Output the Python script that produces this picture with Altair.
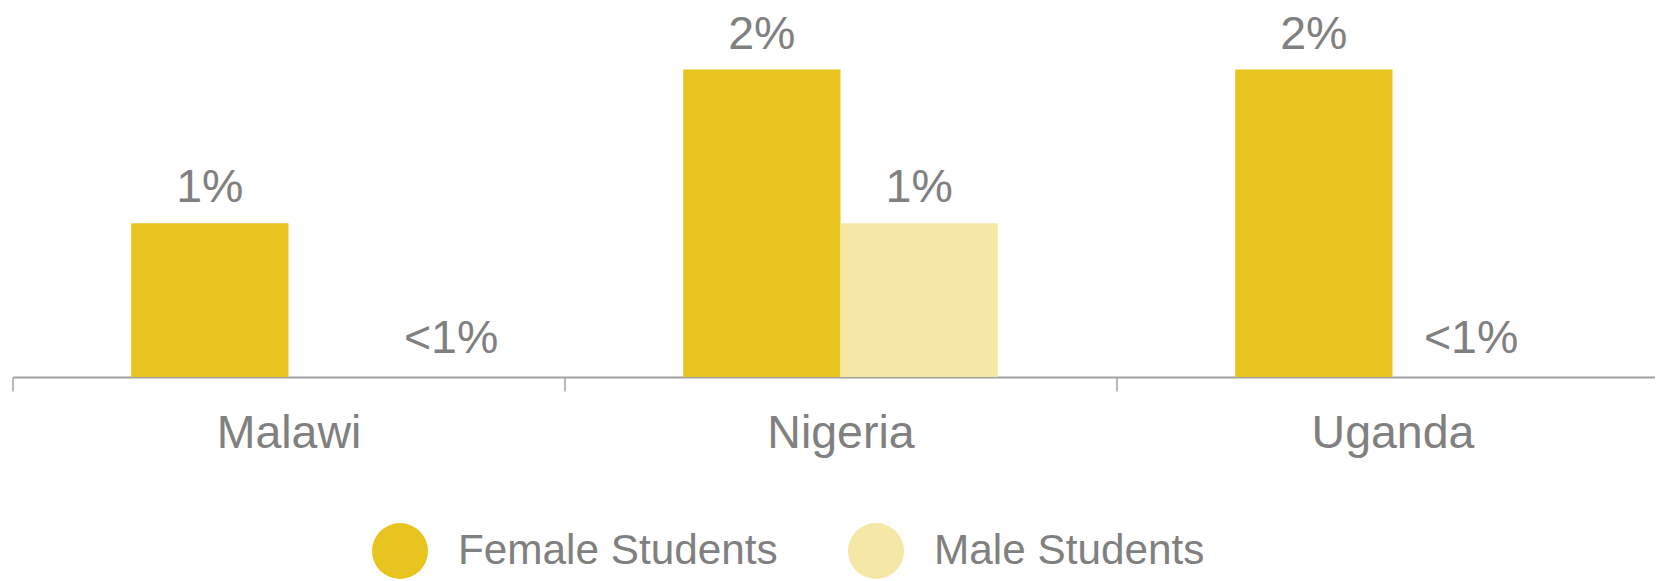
import altair as alt
import pandas as pd

countries = ["Malawi", "Nigeria", "Uganda"]
genders = ["Female Students", "Male Students"]
female_values = [1, 2, 2]
male_values = [0, 1, 0]
female_labels = ["1%", "2%", "2%"]
male_labels = ["<1%", "1%", "<1%"]
colors = ["#E8C51E", "#F5E8A6"]

rows = []
for i, c in enumerate(countries):
    rows.append(dict(Country=c, Gender=genders[0], Value=female_values[i], Label=female_labels[i]))
    rows.append(dict(Country=c, Gender=genders[1], Value=male_values[i], Label=male_labels[i]))
df = pd.DataFrame(rows)

FONT = "Liberation Sans"
GREY = "#808080"
AXIS_GREY = "#a0a0a0"

x_enc = alt.X(
    "Country:N",
    sort=countries,
    scale=alt.Scale(paddingInner=0, paddingOuter=0),
    axis=alt.Axis(
        title=None, labelAngle=0, labelFontSize=46.5, labelColor=GREY, labelFont=FONT,
        labelPadding=19, tickSize=14, tickWidth=1.5, tickColor=AXIS_GREY,
        domainColor=AXIS_GREY, domainWidth=2, tickBand="extent", grid=False,
    ),
)
xo_enc = alt.XOffset("Gender:N", sort=genders, scale=alt.Scale(paddingInner=0, paddingOuter=0.7546))
y_enc = alt.Y("Value:Q", scale=alt.Scale(domain=[0, 2.4]), axis=None)

bars = alt.Chart(df).mark_bar().encode(
    x=x_enc,
    xOffset=xo_enc,
    y=y_enc,
    color=alt.Color(
        "Gender:N",
        sort=genders,
        scale=alt.Scale(domain=genders, range=colors),
        legend=alt.Legend(
            title=None, orient="none", legendX=359.5, legendY=515, direction="horizontal",
            symbolType="circle", symbolSize=3136, symbolStrokeWidth=0,
            labelFontSize=42.3, labelColor=GREY, labelFont=FONT, labelOffset=30,
            columnPadding=70, labelLimit=0, padding=0,
        ),
    ),
)

text_style = dict(font=FONT, fontSize=46.5, color=GREY, baseline="alphabetic", align="center")

t_main = alt.Chart(df).transform_filter("datum.Value > 0").mark_text(dy=-21, **text_style).encode(
    x=x_enc, xOffset=xo_enc, y=y_enc, text="Label:N"
)
t_small = alt.Chart(df).transform_filter(
    "datum.Value == 0 && datum.Country != 'Malawi'"
).mark_text(dy=-24, **text_style).encode(x=x_enc, xOffset=xo_enc, y=y_enc, text="Label:N")
t_malawi = alt.Chart(df).transform_filter(
    "datum.Value == 0 && datum.Country == 'Malawi'"
).mark_text(dy=-24, dx=84, **text_style).encode(x=x_enc, xOffset=xo_enc, y=y_enc, text="Label:N")

chart = (
    alt.layer(bars, t_main, t_small, t_malawi)
    .properties(
        width=1656,
        height=369,
        padding={"left": 4.5, "top": 0, "right": -13.5, "bottom": 204},
        autosize=alt.AutoSizeParams(type="none"),
    )
    .configure_view(stroke=None)
)

chart.save("out.html", embed_options={"renderer": "svg", "actions": False})
